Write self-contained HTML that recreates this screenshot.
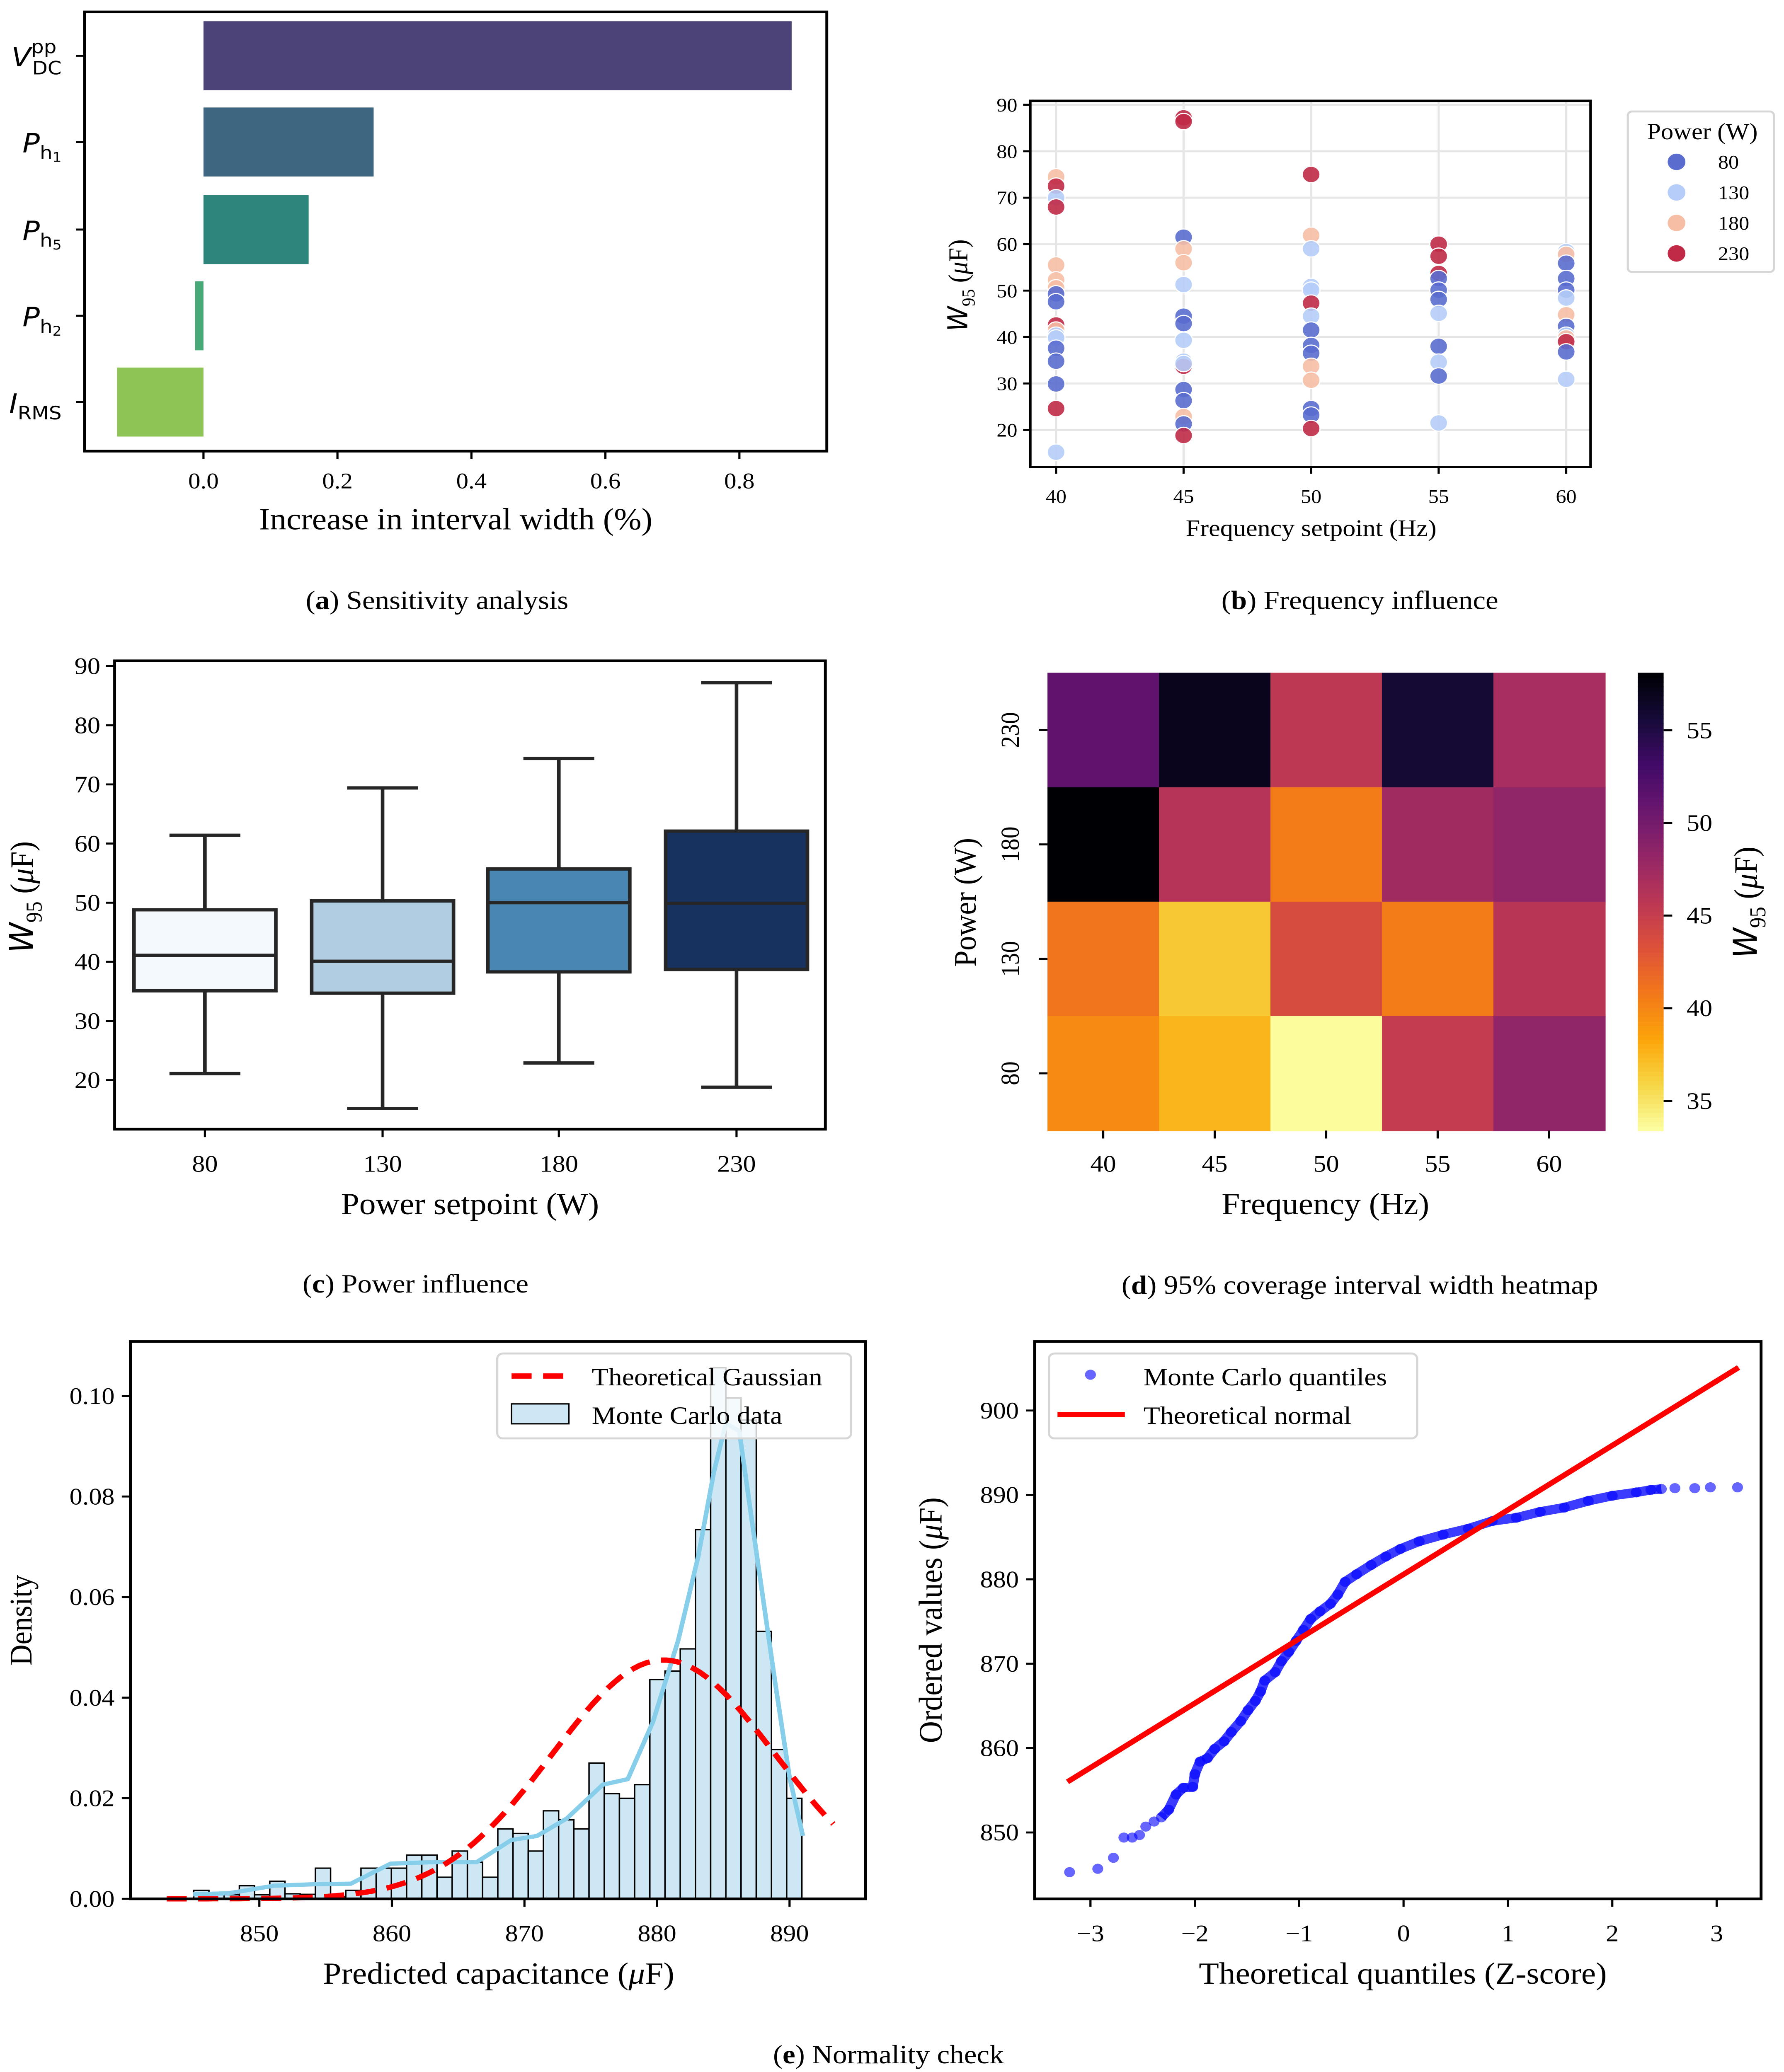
<!DOCTYPE html>
<html><head><meta charset="utf-8"><style>
html,body{margin:0;padding:0;background:#fff;overflow:hidden;width:100%;height:100%}
svg{display:block;position:absolute;left:0;top:0;width:100vw;height:100vh}
text{font-family:"Liberation Serif",serif;fill:#000}
.sans{font-family:"DejaVu Sans","Liberation Sans",sans-serif}
</style></head><body>
<svg id="fig" xmlns="http://www.w3.org/2000/svg" viewBox="0 0 1245 1561.5" preserveAspectRatio="none">
<rect x="0" y="0" width="1245" height="1561.5" fill="#fff"/>
</svg>
<script>
// ---------- data (a) ----------
const sensLabels = ["VDC","Ph1","Ph5","Ph2","IRMS"];
const sensValues = [0.878, 0.254, 0.157, -0.0125, -0.129];
const sensTicks = [0.0, 0.2, 0.4, 0.6, 0.8];
// ---------- data (b) ----------
const freqCats = [40,45,50,55,60];
const powerCats = [80,130,180,230];
const scatterFreq = [
40,40,40,40,40,40,40,40,40,40,40,40,40,40,40,40,40,40,
45,45,45,45,45,45,45,45,45,45,45,45,45,45,45,45,45,
50,50,50,50,50,50,50,50,50,50,50,50,50,50,50,
55,55,55,55,55,55,55,55,55,55,55,
60,60,60,60,60,60,60,60,60,60,60,60,60];
const scatterPower = [
180,230,130,230,180,180,180,80,80,230,180,130,130,80,80,80,230,130,
230,230,80,180,180,130,80,80,130,130,230,130,80,80,180,80,230,
230,180,130,130,130,230,130,80,80,80,180,180,80,80,230,
230,230,230,80,80,80,130,80,130,80,130,
130,180,80,80,80,130,180,80,130,180,230,80,130];
const scatterW = [
74.5,72.5,70,68,55.5,52.3,50.6,49.3,47.6,42.6,41.5,40.4,39.8,37.6,34.8,29.9,24.6,15.2,
87.2,86.4,61.5,59,56,51.3,44.5,42.9,39.3,34.8,33.7,34.3,28.7,26.3,22.9,21.3,18.8,
75,61.9,59,50.9,50.1,47.3,44.5,41.5,38.2,36.5,33.7,30.7,24.6,23.2,20.3,
60,57.4,53.7,52.6,50.1,48.1,45.1,38,34.6,31.6,21.5,
58.4,57.8,55.9,52.6,50.1,48.4,44.8,42.3,40.4,39.8,39,36.8,30.9];
const wTicks = [20,30,40,50,60,70,80,90];
// ---------- data (c) ----------
const boxWhiskLo = [21.1,15.2,22.9,18.8];
const boxQ1 = [35.1,34.7,38.3,38.7];
const boxMed = [41.1,40.1,50,49.9];
const boxQ3 = [48.8,50.3,55.7,62.1];
const boxWhiskHi = [61.4,69.4,74.4,87.2];
// ---------- data (d) ----------
const heatRows = [230,180,130,80];
const heatVals = [
 [51.4,57.0,45.7,55.9,47.0],
 [58.1,46.2,40.6,47.5,48.4],
 [41.0,36.6,43.8,40.6,46.0],
 [39.8,37.6,33.6,45.2,48.4]];
const cbarTicks = [35,40,45,50,55];
// ---------- data (e) ----------
const histStart = 845.05;
const histBinWidth = 1.147;
const histDensity = [0.0017,0.0008,0.0008,0.0026,0.0008,0.0035,0.001,0.0009,0.0061,0.0004,
0.0017,0.0061,0.0061,0.0061,0.0087,0.0087,0.0043,0.0095,0.0073,0.0043,
0.0139,0.013,0.0095,0.0175,0.0157,0.0139,0.027,0.0209,0.02,0.0227,
0.0436,0.0453,0.0497,0.0734,0.1056,0.0996,0.0952,0.0532,0.0297,0.02];
const kdeX = [845,847.7,851.1,854.2,856.9,859.9,863.3,866.4,869,870.95,873.2,875.9,877.8,879.7,881.6,883.1,884.3,885.2,886.2,887.3,888.9,890,891];
const kdeY = [0.0009,0.0011,0.0026,0.0029,0.003,0.007,0.0073,0.0073,0.0117,0.0125,0.016,0.0227,0.0238,0.0352,0.0514,0.068,0.085,0.0946,0.093,0.0726,0.0433,0.0242,0.0125];
const gaussMean = [880.5];
const gaussSd = [8.4];
const gaussRange = [843, 893.3];
const capTicks = [850,860,870,880,890];
const densTicks = [0.00,0.02,0.04,0.06,0.08,0.10];
// ---------- data (f) ----------
const qqZ = [-3.2,-2.93,-2.78,-2.68,-2.6,-2.53,-2.47,-2.39,-2.32,-2.25,-2.18,-2.11,-2.02,-2.0,-1.95,-1.88,-1.81,-1.72,-1.65,-1.56,-1.49,-1.42,-1.37,-1.33,-1.23,-1.17,-1.1,-1.03,-0.96,-0.89,-0.8,-0.7,-0.63,-0.56,-0.45,-0.31,-0.17,-0.03,0.15,0.38,0.62,0.85,1.08,1.31,1.54,1.77,2.0,2.23,2.37,2.47,2.6,2.79,2.94,3.2];
const qqV = [845.3,845.7,847,849.4,849.4,849.7,850.7,851.3,851.8,852.7,854.5,855.3,855.4,856.9,858.4,858.8,859.9,860.8,861.9,863.2,864.5,865.6,866.7,868,869,870.3,871.4,872.7,874,875.3,876.2,877.1,878.2,879.7,880.6,881.7,882.7,883.6,884.5,885.3,886,886.9,887.3,888,888.5,889.3,889.9,890.3,890.6,890.7,890.8,890.8,890.9,890.9];
const refLineZ = [-3.22, 3.21];
const refLineV = [856, 905.1];
const zTicks = [-3,-2,-1,0,1,2,3];
const ordTicks = [850,860,870,880,890,900];

const NS = "http://www.w3.org/2000/svg";
const svg = document.getElementById('fig');
function el(tag, attrs, parent, name, inter){
  const e = document.createElementNS(NS, tag);
  for (const k in attrs) e.setAttribute(k, attrs[k]);
  
  
  (parent||svg).appendChild(e);
  return e;
}
function txt(x,y,s,size,anchor,parent,name,extra){
  const a = Object.assign({x:x,y:y,'font-size':size,'text-anchor':anchor||'middle'}, extra||{});
  const t = el('text', a, parent, name, false);
  t.textContent = s;
  return t;
}
function lin(d0,d1,r0,r1){ return v => r0 + (v-d0)*(r1-r0)/(d1-d0); }
function fmt(v,d){ return v.toFixed(d).replace('-', '\u2212'); }

// ================= (a) =================
(function(){
  const g = el('g',{},svg,'sensitivity-chart',false);
  const L=59,R=577,T=9,B=340;
  const x = lin(0,0.8,142,516);
  const rowY = [42,107,173,238,303];
  const colors = ["#4c4479","#3f6680","#2e857c","#47a878","#8ec456"];
  sensValues.forEach((v,i)=>{
    const x0 = Math.min(x(0),x(v)), w = Math.abs(x(v)-x(0));
    el('rect',{x:x0,y:rowY[i]-26,width:w,height:52,fill:colors[i]},g,'bar-'+sensLabels[i].toLowerCase(),false);
  });
  el('rect',{x:L,y:T,width:R-L,height:B-T,fill:'none',stroke:'#000','stroke-width':2},g,'axes-frame',false);
  sensTicks.forEach(t=>{
    el('line',{x1:x(t),x2:x(t),y1:B,y2:B+6,stroke:'#000','stroke-width':1.5},g,'x-tick',false);
    txt(x(t),B+28,t.toFixed(1),17,'middle',g,'x-tick-label');
  });
  rowY.forEach(y=>el('line',{x1:L-6,x2:L,y1:y,y2:y,stroke:'#000','stroke-width':1.5},g,'y-tick',false));
  const ylab = [
    ['V','DC','pp'],['P','h','1'],['P','h','5'],['P','h','2'],['I','RMS','']];
  ylab.forEach((l,i)=>{
    const t = el('text',{x:43,y:rowY[i]+8,'font-size':20,'text-anchor':'end',class:'sans'},g,'y-tick-label',false);
    const m = document.createElementNS(NS,'tspan'); m.setAttribute('font-style','italic'); m.textContent=l[0]; t.appendChild(m);
    if(l[0]==='V'){
      const s = document.createElementNS(NS,'tspan'); s.setAttribute('font-size',14); s.setAttribute('dy',-10); s.textContent=l[2]; t.appendChild(s);
      const s2 = document.createElementNS(NS,'tspan'); s2.setAttribute('font-size',14); s2.setAttribute('dx',-17); s2.setAttribute('dy',16); s2.textContent=l[1]; t.appendChild(s2);
    } else if(l[0]==='I'){
      const s = document.createElementNS(NS,'tspan'); s.setAttribute('font-size',14); s.setAttribute('dy',5); s.textContent=l[1]; t.appendChild(s);
    } else {
      const s = document.createElementNS(NS,'tspan'); s.setAttribute('font-size',14); s.setAttribute('dy',5); s.textContent=l[1]; t.appendChild(s);
      const s2 = document.createElementNS(NS,'tspan'); s2.setAttribute('font-size',10); s2.setAttribute('dy',2); s2.textContent=l[2]; t.appendChild(s2);
    }
  });
  txt(318,399,'Increase in interval width (%)',23,'middle',g,'x-axis-title');
  const c = txt(305,459,'',20,'middle',g,'caption-a');
  c.innerHTML = '(<tspan font-weight="bold">a</tspan>) Sensitivity analysis';
})();

// ================= (b) =================
(function(){
  const g = el('g',{},svg,'frequency-scatter-chart',false);
  const L=719,R=1110,T=76,B=352;
  const x = lin(40,60,737,1093), y = lin(20,90,324,79);
  wTicks.forEach(t=>el('line',{x1:L,x2:R,y1:y(t),y2:y(t),stroke:'#e6e6e6','stroke-width':1.5},g,'grid-line',false));
  freqCats.forEach(t=>el('line',{x1:x(t),x2:x(t),y1:T,y2:B,stroke:'#e6e6e6','stroke-width':1.5},g,'grid-line',false));
  const pc = {80:'#5a6dcf',130:'#b5cdf8',180:'#f6bea5',230:'#c02a47'};
  scatterW.forEach((v,i)=>{
    el('circle',{cx:x(scatterFreq[i]),cy:y(v),r:6.2,fill:pc[scatterPower[i]],'fill-opacity':0.9,stroke:'#fff','stroke-width':0.8},g,'point-'+scatterPower[i]+'w',false);
  });
  el('rect',{x:L,y:T,width:R-L,height:B-T,fill:'none',stroke:'#000','stroke-width':1.8},g,'axes-frame',false);
  freqCats.forEach(t=>{
    el('line',{x1:x(t),x2:x(t),y1:B,y2:B+5,stroke:'#000','stroke-width':1.5},g,'x-tick',false);
    txt(x(t),B+27,String(t),14.5,'middle',g,'x-tick-label');
  });
  wTicks.forEach(t=>{
    el('line',{x1:L-5,x2:L,y1:y(t),y2:y(t),stroke:'#000','stroke-width':1.5},g,'y-tick',false);
    txt(L-9,y(t)+5,String(t),14.5,'end',g,'y-tick-label');
  });
  txt(915,404,'Frequency setpoint (Hz)',18,'middle',g,'x-axis-title');
  const yl = el('text',{x:0,y:0,'font-size':19,'text-anchor':'middle',transform:'translate(675,215) rotate(-90)'},g,'y-axis-title',false);
  yl.innerHTML = '<tspan font-style="italic" class="sans">W</tspan><tspan font-size="13" dy="5">95</tspan><tspan dy="-5"> (</tspan><tspan font-style="italic">μ</tspan>F)';
  const lg = el('g',{},g,'legend',false);
  el('rect',{x:1136,y:84,width:102,height:121,rx:3,fill:'#fff',stroke:'#d6d6d6','stroke-width':1.5},lg,'legend-frame',false);
  txt(1188,105,'Power (W)',17.5,'middle',lg,'legend-title');
  powerCats.forEach((p,i)=>{
    const yy = 122+i*23;
    el('circle',{cx:1170,cy:yy,r:6.2,fill:pc[p]},lg,'legend-marker-'+p,false);
    txt(1199,yy+5,String(p),14.5,'start',lg,'legend-entry-'+p);
  });
  const c = txt(949,459,'',20,'middle',g,'caption-b');
  c.innerHTML = '(<tspan font-weight="bold">b</tspan>) Frequency influence';
})();

// ================= (c) =================
(function(){
  const g = el('g',{},svg,'power-boxplot-chart',false);
  const L=80,R=576,T=498,B=851;
  const y = lin(20,90,814,502);
  const xc = [143,267,390,514];
  const fills = ['#f4f9fe','#b1cde1','#4a86b3','#17325e'];
  const bw = 99;
  boxMed.forEach((m,i)=>{
    const x=xc[i], s='#262626', sw=2.5;
    el('line',{x1:x,x2:x,y1:y(boxWhiskLo[i]),y2:y(boxQ1[i]),stroke:s,'stroke-width':sw},g,'whisker-low',false);
    el('line',{x1:x,x2:x,y1:y(boxQ3[i]),y2:y(boxWhiskHi[i]),stroke:s,'stroke-width':sw},g,'whisker-high',false);
    el('line',{x1:x-bw/4,x2:x+bw/4,y1:y(boxWhiskLo[i]),y2:y(boxWhiskLo[i]),stroke:s,'stroke-width':sw},g,'whisker-cap-low',false);
    el('line',{x1:x-bw/4,x2:x+bw/4,y1:y(boxWhiskHi[i]),y2:y(boxWhiskHi[i]),stroke:s,'stroke-width':sw},g,'whisker-cap-high',false);
    el('rect',{x:x-bw/2,y:y(boxQ3[i]),width:bw,height:y(boxQ1[i])-y(boxQ3[i]),fill:fills[i],stroke:s,'stroke-width':sw},g,'box-'+powerCats[i],false);
    el('line',{x1:x-bw/2,x2:x+bw/2,y1:y(m),y2:y(m),stroke:s,'stroke-width':sw},g,'median-line',false);
  });
  el('rect',{x:L,y:T,width:R-L,height:B-T,fill:'none',stroke:'#000','stroke-width':2},g,'axes-frame',false);
  powerCats.forEach((p,i)=>{
    el('line',{x1:xc[i],x2:xc[i],y1:B,y2:B+6,stroke:'#000','stroke-width':1.5},g,'x-tick',false);
    txt(xc[i],B+32,String(p),18,'middle',g,'x-tick-label');
  });
  wTicks.forEach(t=>{
    el('line',{x1:L-6,x2:L,y1:y(t),y2:y(t),stroke:'#000','stroke-width':1.5},g,'y-tick',false);
    txt(L-10,y(t)+6,String(t),18,'end',g,'y-tick-label');
  });
  txt(328,915,'Power setpoint (W)',23,'middle',g,'x-axis-title');
  const yl = el('text',{x:0,y:0,'font-size':23,'text-anchor':'middle',transform:'translate(23,676) rotate(-90)'},g,'y-axis-title',false);
  yl.innerHTML = '<tspan font-style="italic" class="sans">W</tspan><tspan font-size="16" dy="6">95</tspan><tspan dy="-6"> (</tspan><tspan font-style="italic">μ</tspan>F)';
  const c = txt(290,974,'',20,'middle',g,'caption-c');
  c.innerHTML = '(<tspan font-weight="bold">c</tspan>) Power influence';
})();

// ================= (d) =================
(function(){
  const g = el('g',{},svg,'heatmap-chart',false);
  const L=731,R=1120,T=507,B=852;
  const vmin=33.4, vmax=58.1;
  const stops = ['#000004','#160b39','#420a68','#6a176e','#932667','#bc3754','#dd513a','#f37819','#fca50a','#f6d746','#fcffa4'];
  function hex(h){return [1,3,5].map(i=>parseInt(h.substr(i,2),16));}
  function cmap(v){
    let t = 1-(v-vmin)/(vmax-vmin); t=Math.max(0,Math.min(1,t));
    const p=t*10, i=Math.min(9,Math.floor(p)), f=p-i;
    const a=hex(stops[i]), b=hex(stops[i+1]);
    return 'rgb('+a.map((c,k)=>Math.round(c+(b[k]-c)*f)).join(',')+')';
  }
  const cw=(R-L)/freqCats.length, ch=(B-T)/heatRows.length;
  heatVals.forEach((row,ri)=>row.forEach((v,ci)=>{
    el('rect',{x:L+ci*cw,y:T+ri*ch,width:cw+0.5,height:ch+0.5,fill:cmap(v)},g,'heat-cell-'+heatRows[ri]+'w-'+freqCats[ci]+'hz',false);
  }));
  freqCats.forEach((f,i)=>{
    const xx=L+(i+0.5)*cw;
    el('line',{x1:xx,x2:xx,y1:B,y2:B+6,stroke:'#000','stroke-width':1.5},g,'x-tick',false);
    txt(xx,B+31,String(f),18,'middle',g,'x-tick-label');
  });
  heatRows.forEach((p,i)=>{
    const yy=T+(i+0.5)*ch;
    el('line',{x1:L-6,x2:L,y1:yy,y2:yy,stroke:'#000','stroke-width':1.5},g,'y-tick',false);
    txt(0,0,String(p),18,'middle',g,'y-tick-label',{transform:'translate('+(L-20)+','+yy+') rotate(-90)'});
  });
  const cx0=1143, cx1=1161;
  const cy = lin(vmin,vmax,B,T);
  for(let k=0;k<100;k++){
    const v0 = vmin+(vmax-vmin)*k/100, v1=vmin+(vmax-vmin)*(k+1)/100;
    el('rect',{x:cx0,y:cy(v1),width:cx1-cx0,height:cy(v0)-cy(v1)+0.6,fill:cmap((v0+v1)/2)},g,'colorbar-segment',false);
  }
  cbarTicks.forEach(t=>{
    el('line',{x1:cx1,x2:cx1+6,y1:cy(t),y2:cy(t),stroke:'#000','stroke-width':1.5},g,'colorbar-tick',false);
    txt(cx1+16,cy(t)+6,String(t),18,'start',g,'colorbar-tick-label');
  });
  txt(925,915,'Frequency (Hz)',23,'middle',g,'x-axis-title');
  txt(0,0,'Power (W)',22,'middle',g,'y-axis-title',{transform:'translate(681,680) rotate(-90)'});
  const cl = el('text',{x:0,y:0,'font-size':23,'text-anchor':'middle',transform:'translate(1226,680) rotate(-90)'},g,'colorbar-title',false);
  cl.innerHTML = '<tspan font-style="italic" class="sans">W</tspan><tspan font-size="16" dy="6">95</tspan><tspan dy="-6"> (</tspan><tspan font-style="italic">μ</tspan>F)';
  const c = txt(949,975,'',20,'middle',g,'caption-d');
  c.innerHTML = '(<tspan font-weight="bold">d</tspan>) 95% coverage interval width heatmap';
})();

// ================= (e) =================
(function(){
  const g = el('g',{},svg,'histogram-chart',false);
  const L=91,R=604,T=1011,B=1431;
  const x = lin(850,890,181,551), y = lin(0,0.10,B,1052);
  histDensity.forEach((d,i)=>{
    const x0 = histStart + i*histBinWidth;
    el('rect',{x:x(x0),y:y(d),width:x(x0+histBinWidth)-x(x0),height:B-y(d),fill:'#cde8f4',stroke:'#000','stroke-width':1},g,'hist-bar',false);
  });
  const kp = kdeX.map((v,i)=>x(v).toFixed(1)+','+y(kdeY[i]).toFixed(1)).join(' ');
  el('polyline',{points:kp,fill:'none',stroke:'#87ceeb','stroke-width':3.2,'stroke-linejoin':'round'},g,'kde-line',false);
  const gp=[];
  for(let k=0;k<=100;k++){
    const v = gaussRange[0]+(gaussRange[1]-gaussRange[0])*k/100;
    const d = Math.exp(-0.5*Math.pow((v-gaussMean[0])/gaussSd[0],2))/(gaussSd[0]*Math.sqrt(2*Math.PI));
    gp.push(x(v).toFixed(1)+','+y(d).toFixed(1));
  }
  el('polyline',{points:gp.join(' '),fill:'none',stroke:'#ff0000','stroke-width':4,'stroke-dasharray':'14,8'},g,'gaussian-line',false);
  el('rect',{x:L,y:T,width:R-L,height:B-T,fill:'none',stroke:'#000','stroke-width':2},g,'axes-frame',false);
  capTicks.forEach(t=>{
    el('line',{x1:x(t),x2:x(t),y1:B,y2:B+6,stroke:'#000','stroke-width':1.5},g,'x-tick',false);
    txt(x(t),B+32,String(t),18,'middle',g,'x-tick-label');
  });
  densTicks.forEach(t=>{
    el('line',{x1:L-6,x2:L,y1:y(t),y2:y(t),stroke:'#000','stroke-width':1.5},g,'y-tick',false);
    txt(L-11,y(t)+6,t.toFixed(2),18,'end',g,'y-tick-label');
  });
  const xl = el('text',{x:348,y:1495,'font-size':23,'text-anchor':'middle'},g,'x-axis-title',false);
  xl.innerHTML = 'Predicted capacitance (<tspan font-style="italic">μ</tspan>F)';
  txt(0,0,'Density',22,'middle',g,'y-axis-title',{transform:'translate(22,1221) rotate(-90)'});
  const lg = el('g',{},g,'legend',false);
  el('rect',{x:347,y:1020,width:247,height:64,rx:4,fill:'#fff','fill-opacity':0.8,stroke:'#d6d6d6','stroke-width':1.5},lg,'legend-frame',false);
  el('line',{x1:357,x2:398,y1:1037,y2:1037,stroke:'#ff0000','stroke-width':4,'stroke-dasharray':'14,8'},lg,'legend-marker-gaussian',false);
  txt(413,1044,'Theoretical Gaussian',19,'start',lg,'legend-entry-gaussian');
  el('rect',{x:357,y:1058,width:40,height:15,fill:'#cde8f4',stroke:'#000','stroke-width':1},lg,'legend-marker-data',false);
  txt(413,1073,'Monte Carlo data',19,'start',lg,'legend-entry-data');
})();

// ================= (f) =================
(function(){
  const g = el('g',{},svg,'qq-plot-chart',false);
  const L=722,R=1229,T=1011,B=1431;
  const x = lin(-3,3,761,1198), y = lin(850,900,1381,1063);
  const lp = qqZ.map((z,i)=>x(z).toFixed(1)+','+y(qqV[i]).toFixed(1));
  el('polyline',{points:lp.slice(8,50).join(' '),fill:'none',stroke:'#1a1aff','stroke-width':7,'stroke-linejoin':'round','stroke-opacity':0.85},g,'qq-dense-band',false);
  qqZ.forEach((z,i)=>{
    el('circle',{cx:x(z),cy:y(qqV[i]),r:3.8,fill:'#0000ff','fill-opacity':0.6},g,'qq-point',false);
  });
  el('line',{x1:x(refLineZ[0]),y1:y(refLineV[0]),x2:x(refLineZ[1]),y2:y(refLineV[1]),stroke:'#ff0000','stroke-width':4},g,'reference-line',false);
  el('rect',{x:L,y:T,width:R-L,height:B-T,fill:'none',stroke:'#000','stroke-width':2},g,'axes-frame',false);
  zTicks.forEach(t=>{
    el('line',{x1:x(t),x2:x(t),y1:B,y2:B+6,stroke:'#000','stroke-width':1.5},g,'x-tick',false);
    txt(x(t),B+32,fmt(t,0),18,'middle',g,'x-tick-label');
  });
  ordTicks.forEach(t=>{
    el('line',{x1:L-6,x2:L,y1:y(t),y2:y(t),stroke:'#000','stroke-width':1.5},g,'y-tick',false);
    txt(L-11,y(t)+6,String(t),18,'end',g,'y-tick-label');
  });
  txt(979,1495,'Theoretical quantiles (Z-score)',23,'middle',g,'x-axis-title');
  const yl = el('text',{x:0,y:0,'font-size':23,'text-anchor':'middle',transform:'translate(657,1221) rotate(-90)'},g,'y-axis-title',false);
  yl.innerHTML = 'Ordered values (<tspan font-style="italic">μ</tspan>F)';
  const lg = el('g',{},g,'legend',false);
  el('rect',{x:732,y:1020,width:257,height:64,rx:4,fill:'#fff','fill-opacity':0.8,stroke:'#d6d6d6','stroke-width':1.5},lg,'legend-frame',false);
  el('circle',{cx:761,cy:1036,r:3.8,fill:'#0000ff','fill-opacity':0.6},lg,'legend-marker-quantiles',false);
  txt(798,1044,'Monte Carlo quantiles',19,'start',lg,'legend-entry-quantiles');
  el('line',{x1:738,x2:785,y1:1066,y2:1066,stroke:'#ff0000','stroke-width':4},lg,'legend-marker-normal',false);
  txt(798,1073,'Theoretical normal',19,'start',lg,'legend-entry-normal');
  const c = txt(620,1555,'',20,'middle',svg,'caption-e');
  c.innerHTML = '(<tspan font-weight="bold">e</tspan>) Normality check';
})();
</script>
</body></html>
